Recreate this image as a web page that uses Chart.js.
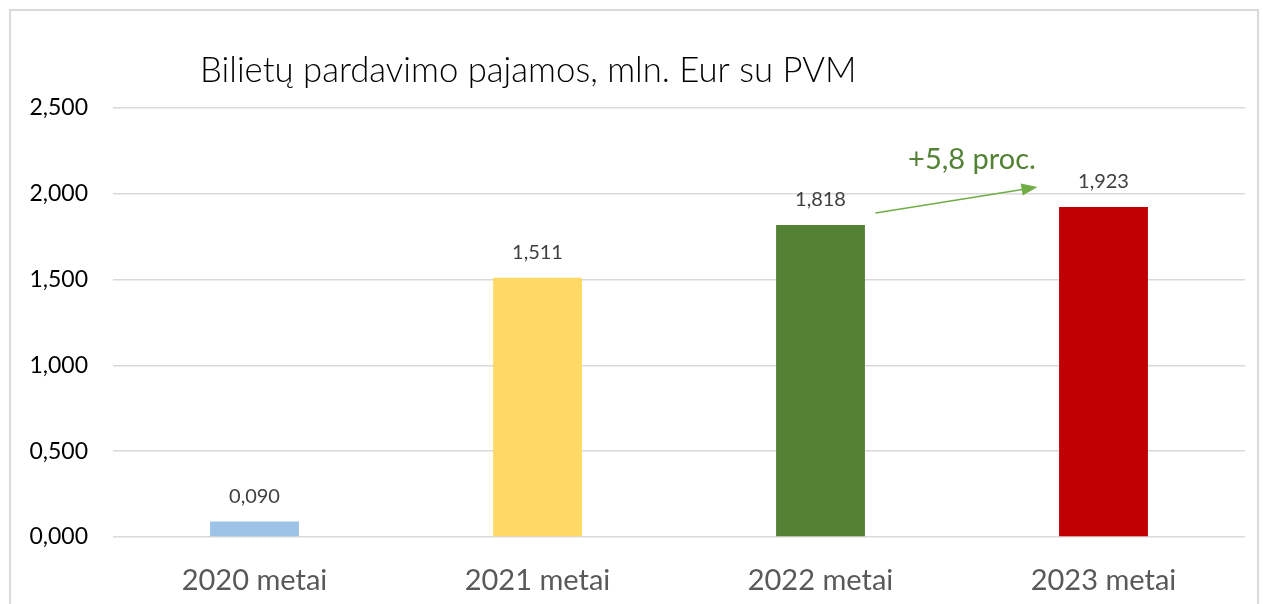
<!DOCTYPE html>
<html>
<head>
<meta charset="utf-8">
<script src="https://cdn.jsdelivr.net/npm/chart.js@4/dist/chart.umd.min.js"></script>
<style>
  html, body { margin: 0; padding: 0; background: #fff; overflow: hidden; }
  #frame { position: absolute; left: 9px; top: 9px; width: 1246px; height: 640px; border: 2px solid #d9d9d9; }
  #wrap { position: absolute; left: 0; top: 0; width: 1263px; height: 604px; }
</style>
</head>
<body>
<div id="frame"></div>
<div id="wrap"><canvas id="chart"></canvas></div>
<script>
const categories = ['2020 metai', '2021 metai', '2022 metai', '2023 metai'];
const values = [0.090, 1.511, 1.818, 1.923];
const barColors = ['#9dc3e6', '#ffd966', '#548235', '#c00000'];
const chartTitle = 'Bilietų pardavimo pajamos, mln. Eur su PVM';
const growthLabel = '+5,8 proc.';

const fmt = v => v.toFixed(3).replace('.', ',');

// title, value labels and the growth arrow
const overlay = {
  id: 'overlay',
  afterDatasetsDraw(chart) {
    const { ctx, scales: { x, y } } = chart;
    ctx.save();

    ctx.fillStyle = '#000';
    ctx.font = '300 34.7px Lato, "Open Sans", sans-serif';
    ctx.textAlign = 'left';
    ctx.textBaseline = 'middle';
    ctx.fillText(chartTitle, 200, 71);

    const meta = chart.getDatasetMeta(0);
    ctx.fillStyle = '#404040';
    ctx.font = '20px Lato, "Open Sans", sans-serif';
    ctx.textAlign = 'center';
    meta.data.forEach((bar, i) => {
      ctx.fillText(fmt(values[i]), bar.x, bar.y - 25);
    });

    // arrow from 2022 to 2023
    const x0 = x.getPixelForValue(2) + 55, y0 = y.getPixelForValue(1.888);
    const x1 = x.getPixelForValue(3) - 66, y1 = y.getPixelForValue(2.04);
    ctx.strokeStyle = '#70ad47';
    ctx.fillStyle = '#70ad47';
    ctx.lineWidth = 1.5;
    ctx.beginPath();
    ctx.moveTo(x0, y0);
    ctx.lineTo(x1 - 12, y1 + 2);
    ctx.stroke();
    const a = Math.atan2(y1 - y0, x1 - x0);
    ctx.beginPath();
    ctx.moveTo(x1, y1);
    ctx.lineTo(x1 - 16 * Math.cos(a) + 6 * Math.sin(a), y1 - 16 * Math.sin(a) - 6 * Math.cos(a));
    ctx.lineTo(x1 - 16 * Math.cos(a) - 6 * Math.sin(a), y1 - 16 * Math.sin(a) + 6 * Math.cos(a));
    ctx.closePath();
    ctx.fill();

    ctx.fillStyle = '#548235';
    ctx.font = '29px Lato, "Open Sans", sans-serif';
    ctx.textAlign = 'center';
    ctx.fillText(growthLabel, (x.getPixelForValue(2) + x.getPixelForValue(3)) / 2 + 10, y.getPixelForValue(2.2));

    ctx.restore();
  }
};

new Chart(document.getElementById('chart'), {
  type: 'bar',
  data: {
    labels: categories,
    datasets: [{
      data: values,
      backgroundColor: barColors,
      borderWidth: 0,
      categoryPercentage: 1,
      barPercentage: 0.314,
    }],
  },
  options: {
    responsive: true,
    maintainAspectRatio: false,
    animation: false,
    layout: { padding: { left: 0, right: 18, top: 108, bottom: 0 } },
    plugins: {
      legend: { display: false },
      tooltip: { enabled: false },
    },
    scales: {
      x: {
        grid: { display: false },
        border: { display: false },
        ticks: {
          color: '#595959',
          font: { family: 'Lato, "Open Sans", sans-serif', size: 29 },
          padding: 18,
        },
        afterFit(scale) { scale.height = 67; },
      },
      y: {
        min: 0,
        max: 2.5,
        grid: { color: '#d9d9d9', lineWidth: 1.5, drawTicks: false },
        border: { display: false },
        ticks: {
          stepSize: 0.5,
          color: '#000',
          padding: 25,
          font: { family: 'Lato, "Open Sans", sans-serif', size: 23 },
          callback: v => fmt(v),
        },
        afterFit(scale) { scale.width = 113; },
      },
    },
  },
  plugins: [overlay],
});
</script>
</body>
</html>
